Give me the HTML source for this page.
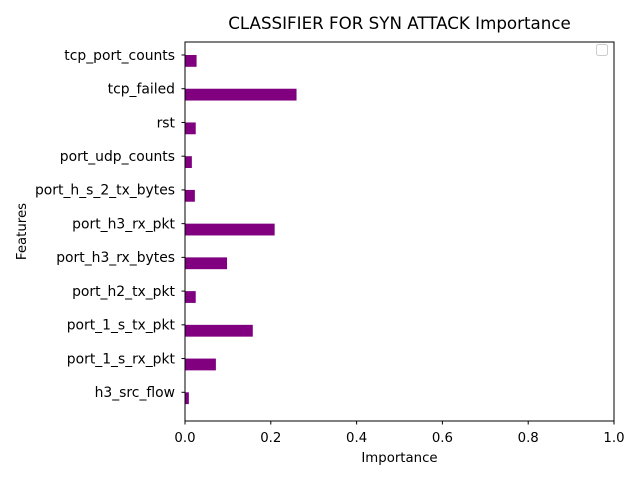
<!DOCTYPE html>
<html><head><meta charset="utf-8"><style>
body{margin:0;background:#fff}
svg text{font-family:"DejaVu Sans","Liberation Sans",sans-serif;fill:#000}
</style></head><body>
<svg id="chart" width="640" height="480" xmlns="http://www.w3.org/2000/svg">
<rect width="640" height="480" fill="#fff"/>
<text x="399.5" y="29" font-size="16.7" text-anchor="middle">CLASSIFIER FOR SYN ATTACK Importance</text>
<g id="bars"></g>
<g id="axes"></g>
<rect x="185" y="42" width="429" height="379" fill="none" stroke="#000" stroke-width="1"/>
<rect x="596.5" y="44.5" width="11" height="11" rx="2" fill="#fff" stroke="#ccc" stroke-width="1"/>
<text x="399.5" y="462" font-size="13.3" text-anchor="middle">Importance</text>
<text transform="translate(26,231.5) rotate(-90)" font-size="13.3" text-anchor="middle">Features</text>
</svg>
<script>
const categories = ["h3_src_flow","port_1_s_rx_pkt","port_1_s_tx_pkt","port_h2_tx_pkt","port_h3_rx_bytes","port_h3_rx_pkt","port_h_s_2_tx_bytes","port_udp_counts","rst","tcp_failed","tcp_port_counts"];
const importance = [0.009,0.072,0.158,0.025,0.098,0.209,0.023,0.016,0.025,0.26,0.027];
const xTicks = [0,0.2,0.4,0.6,0.8,1.0];
const xTickLabels = ["0.0","0.2","0.4","0.6","0.8","1.0"];
const NS="http://www.w3.org/2000/svg";
function xs(v){return 185+v*429;}
function ys(i){return 392.3-i*33.73;}
const bars=document.getElementById('bars'), axes=document.getElementById('axes');
function mk(tag,attrs,parent){const e=document.createElementNS(NS,tag);for(const k in attrs)e.setAttribute(k,attrs[k]);parent.appendChild(e);return e;}
categories.forEach((c,i)=>{
  const r=mk('rect',{x:xs(0),y:ys(i),width:xs(importance[i])-xs(0),height:0.35*33.73,fill:'#800080'},bars);
  
  
  const t=mk('line',{x1:xs(0)-3.5,x2:xs(0),y1:ys(i),y2:ys(i),stroke:'#000'},axes);
  
  
  const l=mk('text',{x:xs(0)-10,y:ys(i)+4.8,'font-size':'13.9','text-anchor':'end'},axes);
  l.textContent=c;
  
  
});
xTicks.forEach((v,i)=>{
  const t=mk('line',{x1:xs(v),x2:xs(v),y1:421,y2:424.5,stroke:'#000'},axes);
  
  
  const l=mk('text',{x:xs(v),y:442,'font-size':'13.3','text-anchor':'middle'},axes);
  l.textContent=xTickLabels[i];
  
  
});
</script>
</body></html>
